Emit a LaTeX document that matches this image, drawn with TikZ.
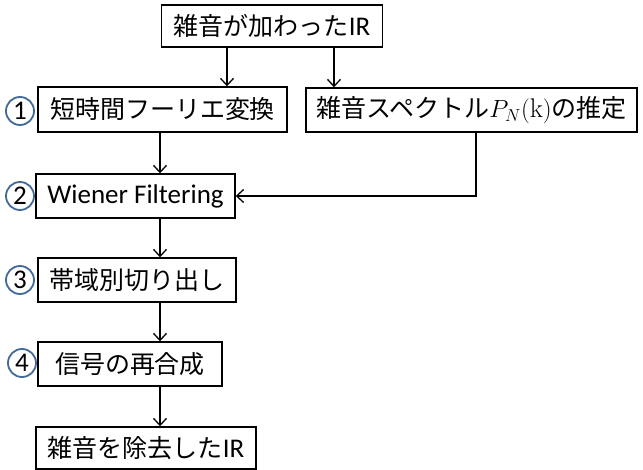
\documentclass[tikz,border=0pt]{standalone}
\usepackage{fontspec}
\newfontfamily\lat{Carlito}
\newfontfamily\cjk{Noto Sans CJK JP}
\usetikzlibrary{arrows.meta}
\definecolor{circ}{HTML}{41699A}
\begin{document}
\begin{tikzpicture}[x=1pt,y=-1pt,
  box/.style={draw,line width=1.4pt,inner sep=0pt,font=\fontsize{25}{28}\selectfont\cjk},
  num/.style={circle,draw=circ,line width=1.8pt,minimum size=28pt,inner sep=0pt,font=\fontsize{27}{28}\selectfont\lat},
  arr/.style={line width=1.4pt,-{Straight Barb[length=7pt,width=13pt,line width=1.3pt]}}]
\useasboundingbox (0,0) rectangle (643,470);
\node[box,minimum width=221pt,minimum height=42pt] (top) at (272,26) {雑音が加わった{\lat\fontsize{27}{28}\selectfont IR}};
\node[box,minimum width=249pt,minimum height=45pt] (s1) at (162.5,109.5) {短時間フーリエ変換};
\node[box,minimum width=331pt,minimum height=44pt] (spec) at (471.5,110) {雑音スペクトル{\fontsize{27}{28}\selectfont$P_N(\mathrm{k})$}の推定};
\node[box,minimum width=199pt,minimum height=44pt,font=\fontsize{27}{28}\selectfont\lat] (s2) at (135.5,196) {Wiener Filtering};
\node[box,minimum width=198pt,minimum height=44pt] (s3) at (137,280) {帯域別切り出し};
\node[box,minimum width=184pt,minimum height=44pt] (s4) at (130,364) {信号の再合成};
\node[box,minimum width=220pt,minimum height=42pt] (out) at (146,448) {雑音を除去した{\lat\fontsize{27}{28}\selectfont IR}};
\node[num] (n1) at (20,111) {1};
\node[num] (n2) at (20,196) {2};
\node[num] (n3) at (20,280) {3};
\node[num] (n4) at (22,363) {4};
\coordinate (xa) at (227,0);
\coordinate (xb) at (334,0);
\coordinate (xc) at (160,0);
\coordinate (xd) at (476,0);
\draw[arr] (top.south -| xa) -- (s1.north -| xa);
\draw[arr] (top.south -| xb) -- (spec.north -| xb);
\draw[arr] (s1.south -| xc) -- (s2.north -| xc);
\draw[arr] (s2.south -| xc) -- (s3.north -| xc);
\draw[arr] (s3.south -| xc) -- (s4.north -| xc);
\draw[arr] (s4.south -| xc) -- (out.north -| xc);
\draw[arr] (spec.south -| xd) |- (s2.east);
\end{tikzpicture}
\end{document}
